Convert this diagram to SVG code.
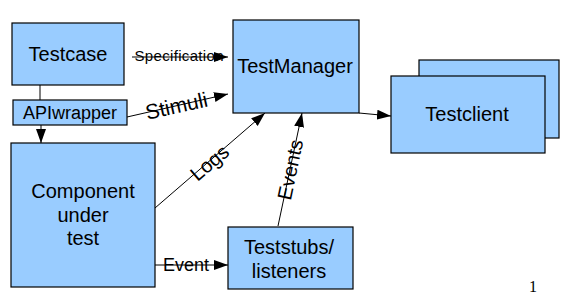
<svg xmlns="http://www.w3.org/2000/svg" width="567" height="302" viewBox="0 0 567 302">
  <style>
    .box { fill: #99ccff; stroke: #000; stroke-width: 1.2; }
    .lbl { font-family: "Liberation Sans", Arial, sans-serif; fill: #000; text-anchor: middle; }
    .conn { stroke: #000; stroke-width: 1; fill: none; }
    .arr { marker-end: url(#head); }
  </style>
  <defs>
    <marker id="head" markerUnits="userSpaceOnUse" markerWidth="15" markerHeight="11" refX="14" refY="5" orient="auto">
      <path d="M0,0 L14,5 L0,10 z" fill="#000"/>
    </marker>
  </defs>
  <rect width="567" height="302" fill="#fff"/>

  <!-- connectors -->
  <g id="connectors">
    <line class="conn" x1="40" y1="85" x2="40" y2="100"/>
    <line class="conn arr" x1="41" y1="125" x2="41" y2="143"/>
    <line class="conn arr" x1="132" y1="57" x2="228" y2="57"/>
    <line class="conn arr" x1="127" y1="117" x2="228" y2="94"/>
    <line class="conn arr" x1="155" y1="208" x2="265" y2="113"/>
    <line class="conn arr" x1="278" y1="226" x2="302" y2="113"/>
    <line class="conn arr" x1="359" y1="113" x2="391" y2="116"/>
    <line class="conn arr" x1="152" y1="265" x2="228" y2="265"/>
  </g>

  <!-- nodes -->
  <g id="testcase">
    <rect class="box" x="12" y="23" width="112" height="62"/>
    <text class="lbl" x="68" y="61" font-size="20">Testcase</text>
  </g>
  <g id="apiwrapper">
    <rect class="box" x="13" y="100" width="114" height="25"/>
    <text class="lbl" x="70" y="119" font-size="18">APIwrapper</text>
  </g>
  <g id="component">
    <rect class="box" x="11" y="143" width="144" height="144"/>
    <text class="lbl" x="83" y="198" font-size="20">Component</text>
    <text class="lbl" x="83" y="222" font-size="20">under</text>
    <text class="lbl" x="83" y="245" font-size="20">test</text>
  </g>
  <g id="testmanager">
    <rect class="box" x="233" y="20" width="126" height="93"/>
    <text class="lbl" x="295" y="73" font-size="20">TestManager</text>
  </g>
  <g id="testclient">
    <rect class="box" x="419" y="60" width="140" height="78"/>
    <rect class="box" x="391" y="76" width="154" height="77"/>
    <text class="lbl" x="467" y="121" font-size="20">Testclient</text>
  </g>
  <g id="teststubs">
    <rect class="box" x="228" y="227" width="125" height="62"/>
    <text class="lbl" x="289" y="254" font-size="20">Teststubs/</text>
    <text class="lbl" x="289" y="278" font-size="20">listeners</text>
  </g>

  <!-- connector labels -->
  <g id="labels">
    <text class="lbl" x="179" y="61" font-size="15" textLength="89">Specification</text>
    <text class="lbl" font-size="21" transform="translate(178,113) rotate(-12.5)">Stimuli</text>
    <text class="lbl" font-size="20" transform="translate(214,168) rotate(-40.5)">Logs</text>
    <text class="lbl" font-size="20" transform="translate(297,171) rotate(-78)">Events</text>
    <text class="lbl" x="186" y="271" font-size="18">Event</text>
  </g>

  <text x="533" y="292" font-family="'Liberation Serif', 'Times New Roman', serif" font-size="16" text-anchor="middle">1</text>
</svg>
